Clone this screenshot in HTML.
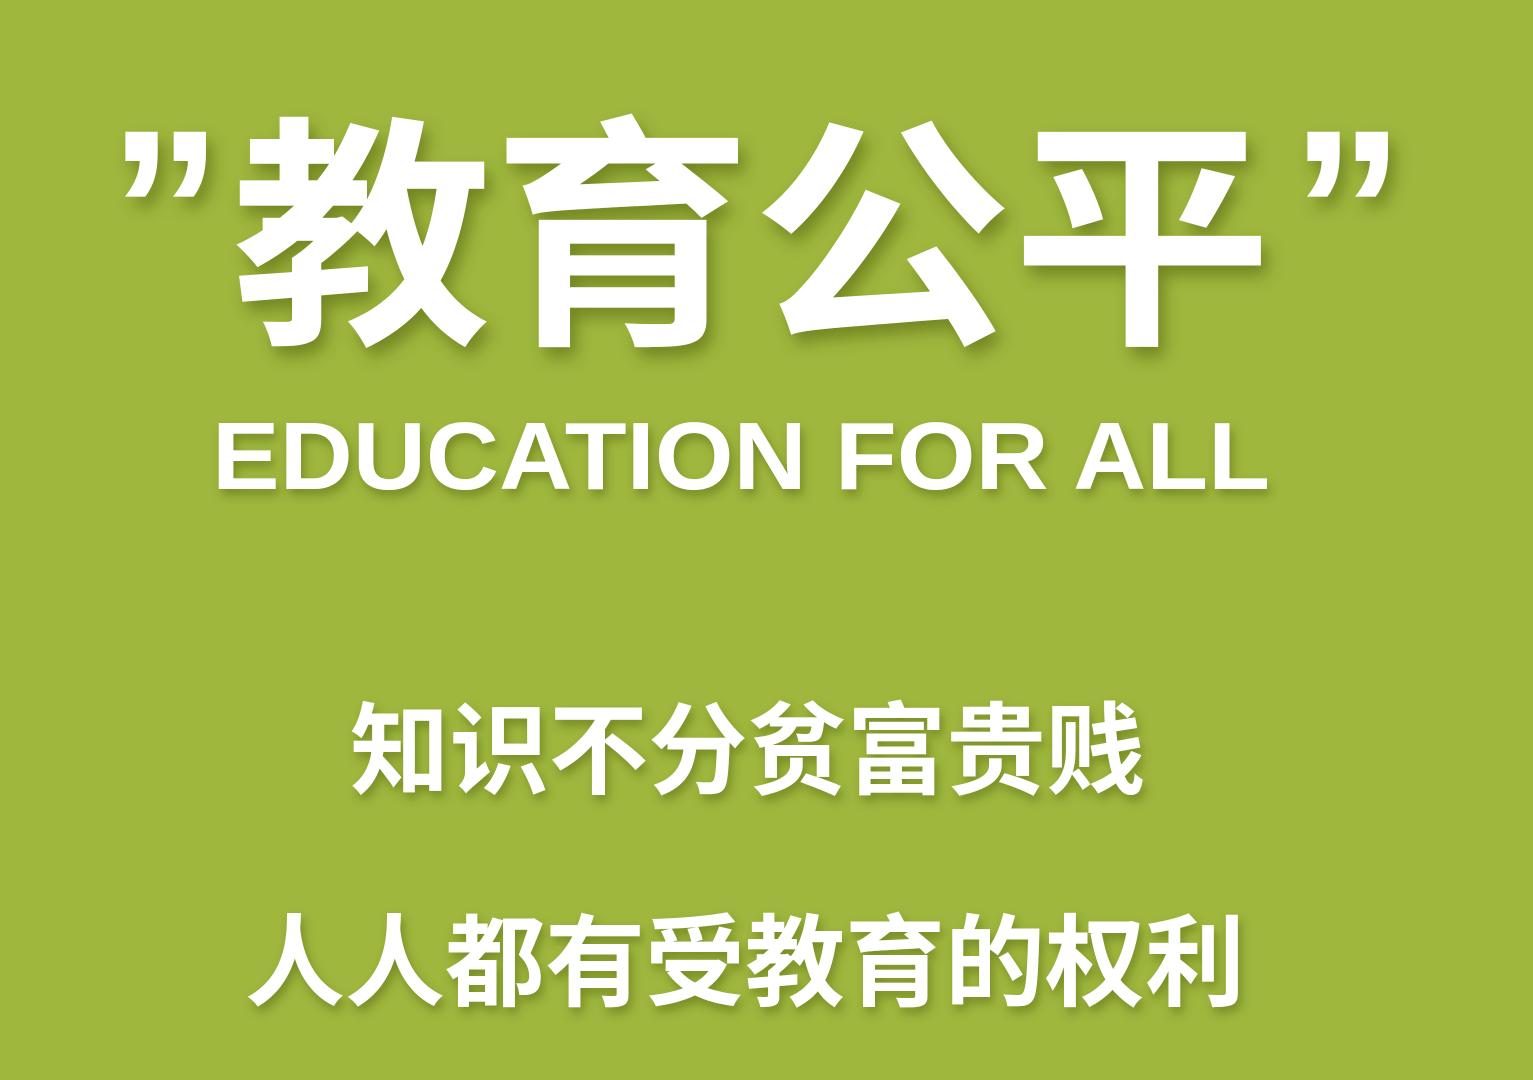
<!DOCTYPE html>
<html><head><meta charset="utf-8"><style>
html,body{margin:0;padding:0;width:1533px;height:1080px;overflow:hidden;background:#9fb73d}
svg{display:block}
text{font-family:"Liberation Sans","Noto Sans CJK SC",sans-serif;font-weight:bold;fill:#fff}
</style></head><body>
<svg width="1533" height="1080" viewBox="0 0 1533 1080">
<defs>
<filter id="sh" x="-10%" y="-10%" width="120%" height="130%">
<feDropShadow dx="6" dy="10" stdDeviation="8" flood-color="#3a4a10" flood-opacity="0.45"/>
</filter>
<filter id="sh2" x="-10%" y="-10%" width="120%" height="140%">
<feDropShadow dx="3" dy="6" stdDeviation="5" flood-color="#3a4a10" flood-opacity="0.4"/>
</filter>
</defs>
<rect width="1533" height="1080" fill="#9fb73d"/>
<g filter="url(#sh)">
<text x="108" y="290" font-size="230">”</text>
<text x="232" y="325" font-size="245" textLength="1040" lengthAdjust="spacingAndGlyphs">教育公平</text>
<text x="1290" y="290" font-size="230">”</text>
</g>
<g filter="url(#sh2)">
<text x="212" y="489" font-size="96" textLength="1058" lengthAdjust="spacingAndGlyphs">EDUCATION FOR ALL</text>
<text x="350" y="786" font-size="100" textLength="795" lengthAdjust="spacingAndGlyphs">知识不分贫富贵贱</text>
<text x="245" y="998" font-size="100" textLength="1000" lengthAdjust="spacingAndGlyphs">人人都有受教育的权利</text>
</g>
</svg>
</body></html>
